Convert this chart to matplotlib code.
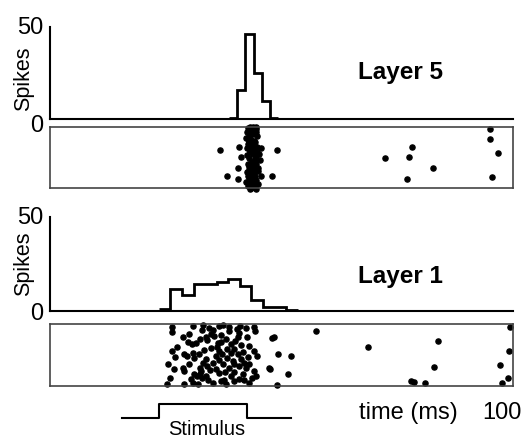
import matplotlib
matplotlib.use("Agg")
import matplotlib.pyplot as plt

plt.rcParams['font.family'] = ['Liberation Sans', 'DejaVu Sans']

# PSTH data (time in ms, spike counts)
l5_edges = [38.6, 40.4, 42.2, 44.0, 45.7, 47.5, 49.3]
l5_counts = [0.7, 16, 46, 25, 10, 0.7]

l1_edges = [23.5, 26.0, 28.5, 31.0, 33.5, 36.0, 38.5, 41.0, 43.5, 46.0, 48.5, 51.0, 53.5]
l1_counts = [1, 12, 8.3, 14.5, 14.5, 15.5, 17, 13.6, 6, 2, 2, 0.5]

# raster, layer 5 (time ms, trial)
l5_t = [36.8, 49.0, 38.2, 48.0, 40.9, 40.7, 40.7, 41.2, 45.5, 45.5,
        72.4, 78.2, 77.6, 82.8, 77.2, 95.1, 95.1, 96.8, 95.5,
        43.2, 44.6, 42.8, 44.0, 43.6, 42.6, 44.4, 43.8, 43.0, 44.8,
        42.4, 43.4, 43.0, 44.2, 42.8, 43.6, 42.6, 44.0, 43.2, 44.8,
        43.8, 45.2, 44.4, 43.0, 44.2, 45.4, 43.6, 42.8, 44.6, 43.4,
        43.8, 45.0, 43.0, 42.6, 44.0, 43.4, 42.8, 44.2, 43.6, 43.0,
        44.4, 42.4, 43.8, 43.2, 45.0, 42.8, 44.0, 43.4,
        43.9, 42.9, 44.5, 43.3, 42.7, 44.1, 43.5, 44.7, 43.1, 42.5,
        44.3, 43.7, 42.9, 44.9, 43.5, 44.1, 42.7, 43.9, 44.5, 43.3]
l5_tr = [11.9, 11.9, 25.2, 25.2, 10.5, 21.0, 26.5, 15.2, 11.0, 24.9,
         15.7, 10.4, 15.4, 21.0, 26.5, 1.4, 6.2, 13.2, 25.7,
         0, 0, 1, 1, 2, 3, 3, 4, 5, 5,
         6, 7, 8, 8, 9, 10, 11, 12, 13, 13,
         14, 14, 15, 16, 17, 17, 18, 19, 19, 20,
         21, 21, 22, 23, 23, 24, 25, 25, 26, 27,
         27, 28, 28, 29, 29, 30, 30, 31,
         0.5, 2.5, 1.5, 4.5, 6.5, 7.5, 9.5, 10.5, 12.5, 14.5,
         16.5, 18.5, 20.5, 22.5, 24.5, 26.5, 28.5, 30.5, 31.5, 31.5]

# raster, layer 1 (time ms, trial)
l1_t = [26.4, 26.4, 30.8, 33.0, 32.8, 34.4, 34.8, 36.6, 37.4, 38.6,
        38.6, 40.3, 42.3, 44.1, 44.2, 48.4, 48.0, 28.7, 30.0, 30.7,
        31.5, 32.3, 33.7, 35.5, 36.2, 36.9, 38.0, 39.1, 40.0, 40.5,
        41.2, 42.6, 43.0, 26.4, 27.1, 29.0, 29.5, 30.8, 32.1, 33.7,
        34.8, 35.8, 36.6, 37.1, 38.3, 39.1, 39.8, 40.5, 41.2, 44.1,
        44.8, 49.3, 52.0, 25.4, 28.7, 29.0, 30.1, 32.3, 32.6, 33.1,
        34.0, 35.1, 36.6, 37.3, 38.7, 39.8, 40.9, 41.9, 42.3, 43.0,
        44.1, 47.3, 47.5, 51.5, 25.9, 25.2, 29.0, 30.8, 31.9, 32.3,
        33.7, 35.1, 36.9, 37.6, 39.1, 39.8, 40.9, 41.6, 43.0, 43.7,
        49.1, 31.2, 31.8, 32.9, 34.6, 35.8, 37.9, 38.2, 36.0, 33.3,
        31.0, 40.8, 39.5, 41.6, 42.8, 35.3, 33.9, 37.0, 29.8, 27.5,
        39.8, 34.2, 38.0, 42.0, 36.4, 30.4, 41.0, 44.6, 26.8,
        57.4, 68.6, 83.7, 83.0, 78.0, 78.7, 81.0, 99.2, 97.2, 98.9, 97.6, 99.4]
l1_tr = [1.5, 4.0, 1.0, 0.5, 3.2, 2.2, 4.8, 1.0, 0.5, 1.5,
         3.5, 2.7, 2.2, 1.5, 3.5, 6.5, 7.2, 6.5, 5.2, 10.2,
         9.3, 7.7, 6.5, 6.0, 9.3, 5.5, 7.7, 10.2, 8.5, 6.5,
         10.5, 6.5, 11.0, 13.5, 16.5, 15.2, 16.0, 14.3, 15.2, 17.7,
         11.8, 16.0, 13.5, 15.2, 12.7, 14.3, 12.7, 15.2, 17.7, 13.5,
         16.0, 14.8, 15.8, 20.2, 21.8, 23.5, 20.2, 21.8, 23.5, 19.3,
         21.0, 19.3, 24.3, 20.2, 21.8, 20.2, 21.0, 19.3, 21.8, 20.2,
         23.5, 21.8, 22.7, 24.8, 27.2, 29.8, 30.2, 29.3, 30.2, 25.2,
         26.0, 29.3, 28.5, 28.2, 26.0, 28.5, 27.7, 25.2, 29.3, 26.8,
         30.5, 24.8, 25.8, 26.8, 23.0, 22.5, 23.8, 17.2, 11.5, 12.8,
         17.0, 4.5, 18.5, 13.8, 16.5, 3.0, 8.2, 8.8, 9.0, 11.5,
         24.2, 28.0, 30.2, 28.0, 18.0, 27.5, 1.0, 25.8, 22.5,
         3.7, 11.7, 8.7, 21.3, 28.7, 29.0, 29.3, 13.7, 20.5, 27.0, 29.5, 1.7]

# stimulus trace
stim_t = [15.6, 23.5, 23.5, 42.5, 42.5, 52.0]
stim_v = [0, 0, 1, 1, 0, 0]

W, H = 531, 439
fig = plt.figure(figsize=(W / 100, H / 100), dpi=100)

def box(top, bottom, left=50, right=513):
    return [left / W, 1 - bottom / H, (right - left) / W, (bottom - top) / H]

def hist_axes(rect, edges, counts, zero_shift):
    ax = fig.add_axes(rect)
    ax.stairs(counts, edges, baseline=None, color='black', lw=2)
    ax.set_xlim(0, 100)
    ax.set_ylim(0, 50)
    ax.set_xticks([])
    ax.set_yticks([])
    # tick labels as plain text so the "0" can sit a little lower
    ax.text(-0.014, 50, '50', transform=ax.get_yaxis_transform(),
            ha='right', va='center', fontsize=17)
    ax.text(-0.014, 0 - zero_shift, '0', transform=ax.get_yaxis_transform(),
            ha='right', va='center', fontsize=17)
    for s in ['top', 'right']:
        ax.spines[s].set_visible(False)
    for s in ['left', 'bottom']:
        ax.spines[s].set_linewidth(1.5)
    return ax

def raster_axes(rect, t, tr):
    ax = fig.add_axes(rect)
    ax.plot(t, tr, 'o', color='black', ms=3.7, clip_on=False)
    ax.set_xlim(0, 100)
    ax.set_ylim(31, 0)
    ax.set_xticks([])
    ax.set_yticks([])
    for s in ax.spines.values():
        s.set_color('#444444')
        s.set_linewidth(1.2)
    return ax

hist_axes(box(28, 120), l5_edges, l5_counts, 3)
raster_axes(box(127.5, 189), l5_t, l5_tr)
hist_axes(box(218.5, 312), l1_edges, l1_counts, 1)
raster_axes(box(325, 387), l1_t, l1_tr)

sax = fig.add_axes(box(395, 425))
sax.plot(stim_t, stim_v, color='black', lw=1.5)
sax.set_xlim(0, 100)
sax.set_ylim(-0.4, 1.7)
sax.axis('off')

fig.text(358 / W, 1 - 78.5 / H, 'Layer 5', fontsize=17.5, fontweight='bold', va='baseline')
fig.text(358 / W, 1 - 283.5 / H, 'Layer 1', fontsize=17.5, fontweight='bold', va='baseline')
fig.text(24 / W, 1 - 78.5 / H, 'Spikes', fontsize=15.5, rotation=90, ha='center', va='center')
fig.text(24 / W, 1 - 264 / H, 'Spikes', fontsize=15.5, rotation=90, ha='center', va='center')
fig.text(359 / W, 1 - 419 / H, 'time (ms)', fontsize=17, va='baseline')
fig.text(522 / W, 1 - 419 / H, '100', fontsize=17, ha='right', va='baseline')
fig.text(206.7 / W, 1 - 435 / H, 'Stimulus', fontsize=14.5, ha='center', va='baseline')

fig.savefig('out.png', dpi=100)
